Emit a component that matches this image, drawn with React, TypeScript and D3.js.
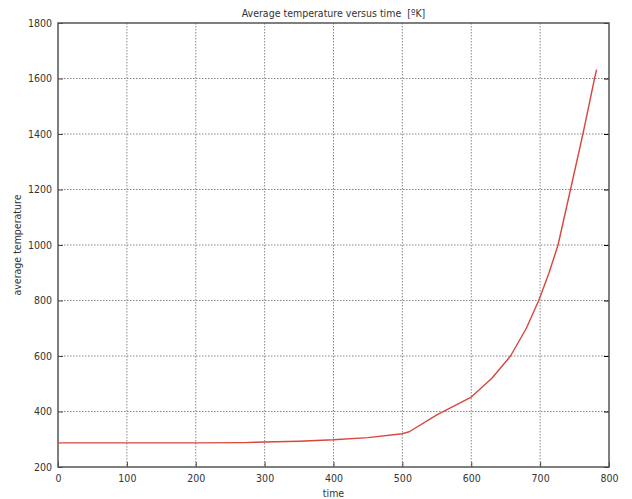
import * as d3 from 'd3'
import { useEffect, useRef } from 'react'

const times = [0, 100, 200, 270, 300, 350, 400, 450, 500, 510, 550, 600, 630, 657, 680, 698, 713, 726, 745, 763, 779, 782]
const temps = [287, 287, 287, 288, 290, 293, 298, 306, 320, 327, 388, 452, 520, 600, 700, 800, 900, 1000, 1210, 1410, 1600, 1632]
const xTicks = [0, 100, 200, 300, 400, 500, 600, 700, 800]
const yTicks = [200, 400, 600, 800, 1000, 1200, 1400, 1600, 1800]

const W = 632
const H = 499

const App = () => {
    const ref = useRef<SVGSVGElement>(null)

    useEffect(() => {
        const margin = { top: 23, right: 23, bottom: 32, left: 58 }
        const width = W - margin.left - margin.right
        const height = H - margin.top - margin.bottom
        const font = '"DejaVu Sans Condensed", "DejaVu Sans", sans-serif'

        const svg = d3.select(ref.current)
        svg.selectAll('*').remove()

        const x = d3.scaleLinear().domain([0, 800]).range([0, width])
        const y = d3.scaleLinear().domain([200, 1800]).range([height, 0])

        const g = svg.append('g')
            .attr('transform', `translate(${margin.left},${margin.top})`)

        // grid
        g.append('g')
            .selectAll('line')
            .data(xTicks.slice(1, -1))
            .join('line')
                .attr('x1', d => x(d)).attr('x2', d => x(d))
                .attr('y1', 0).attr('y2', height)
                .attr('stroke', '#888')
                .attr('stroke-width', 1)
                .attr('stroke-dasharray', '1.5,1.5')

        g.append('g')
            .selectAll('line')
            .data(yTicks.slice(1, -1))
            .join('line')
                .attr('x1', 0).attr('x2', width)
                .attr('y1', d => y(d)).attr('y2', d => y(d))
                .attr('stroke', '#888')
                .attr('stroke-width', 1)
                .attr('stroke-dasharray', '1.5,1.5')

        // axes, ticks pointing inward
        const xAxis = g.append('g')
            .attr('transform', `translate(0,${height})`)
            .call(d3.axisBottom(x).tickValues(xTicks).tickSize(-5).tickPadding(8).tickFormat(d3.format('d')))
        const yAxis = g.append('g')
            .call(d3.axisLeft(y).tickValues(yTicks).tickSize(-5).tickPadding(6).tickFormat(d3.format('d')))
        g.append('g')
            .attr('transform', `translate(${width},0)`)
            .call(d3.axisRight(y).tickValues(yTicks).tickSize(-5).tickFormat(() => ''))

        for (const a of [xAxis, yAxis]) {
            a.selectAll('line').attr('stroke', '#444')
            a.selectAll('text')
                .attr('fill', '#333')
                .style('font-family', font)
                .style('font-size', '10.5px')
        }
        g.selectAll('.domain').remove()

        // frame
        g.append('rect')
            .attr('width', width)
            .attr('height', height)
            .attr('fill', 'none')
            .attr('stroke', '#555')
            .attr('stroke-width', 1.5)

        // line
        const line = d3.line<number>()
            .x((_, i) => x(times[i]))
            .y(d => y(d))

        g.append('path')
            .datum(temps)
            .attr('fill', 'none')
            .attr('stroke', '#d9463c')
            .attr('stroke-width', 1.4)
            .attr('stroke-linejoin', 'round')
            .attr('d', line)

        // labels
        svg.append('text')
            .attr('x', margin.left + width / 2)
            .attr('y', 17)
            .attr('text-anchor', 'middle')
            .attr('fill', '#333')
            .style('font-family', font)
            .style('font-size', '10.5px')
            .style('white-space', 'pre')
            .text('Average temperature versus time  [ºK]')

        svg.append('text')
            .attr('x', margin.left + width / 2)
            .attr('y', 497)
            .attr('text-anchor', 'middle')
            .attr('fill', '#333')
            .style('font-family', font)
            .style('font-size', '10.5px')
            .text('time')

        svg.append('text')
            .attr('transform', `translate(21,${margin.top + height / 2}) rotate(-90)`)
            .attr('text-anchor', 'middle')
            .attr('fill', '#333')
            .style('font-family', font)
            .style('font-size', '10.5px')
            .text('average temperature')
    }, [])

    return (
        <svg
            ref={ref}
            width={W}
            height={H}
            style={{ position: 'absolute', left: 0, top: 0, background: '#fff' }}
        />
    )
}

export default App
